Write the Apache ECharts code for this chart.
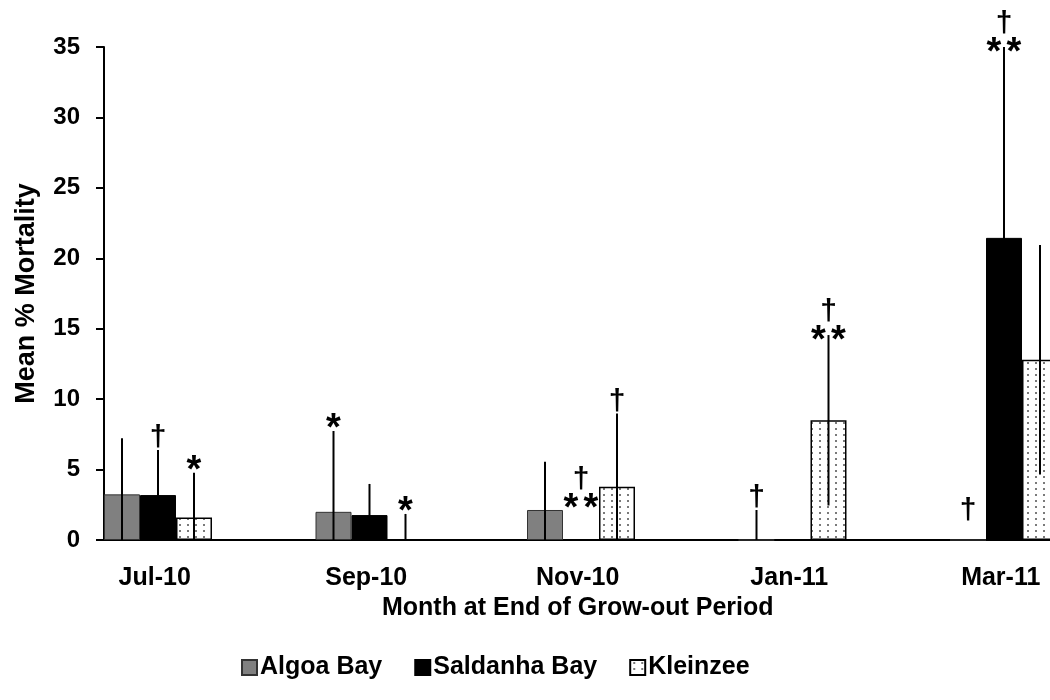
<!DOCTYPE html>
<html><head><meta charset="utf-8">
<script src="https://cdn.jsdelivr.net/npm/echarts@6/dist/echarts.min.js"></script>
<style>html,body{margin:0;padding:0;background:#fff}#c{width:1050px;height:700px}</style>
</head><body><div id="c"></div>
<script>
// ---- data ----
const categories = ['Jul-10', 'Sep-10', 'Nov-10', 'Jan-11', 'Mar-11'];
const seriesNames = ['Algoa Bay', 'Saldanha Bay', 'Kleinzee'];
const yTicks = [0, 5, 10, 15, 20, 25, 30, 35];
const algoa = [3.24, 2.0, 2.13, 0, 0];
const saldanha = [3.19, 1.77, 0, 0, 21.45];
const kleinzee = [1.6, 0, 3.78, 8.5, 12.8];
const algoaErr = [3.98, 5.74, 3.43, 2.13, 0];
const saldanhaErr = [3.2, 2.21, 0, 0, 13.55];
const kleinzeeErr = [3.18, 1.85, 5.2, 6.05, 8.15];
const algoaSig = ['', '*', '', '†', '†'];
const saldanhaSig = ['†', '', '**†', '', '**†'];
const kleinzeeSig = ['*', '*', '†', '**†', ''];
// height (in % units) of markers that have no error line
const algoaSigAt = [null, null, null, null, 1.2];
const saldanhaSigAt = [null, null, 2.6, null, null];
const kleinzeeSigAt = [null, null, null, null, null];

// ---- styling ----
const FONT_FAMILY = '"Liberation Sans", Arial, Helvetica, sans-serif';
const BAR_W = 36;
const GRID_W = 1057.5;

function dotPattern() {
  const c = document.createElement('canvas');
  c.width = 8; c.height = 6;
  const g = c.getContext('2d');
  g.fillStyle = '#ffffff'; g.fillRect(0, 0, 8, 6);
  g.fillStyle = '#7a7a7a'; g.fillRect(3, 2, 2, 2);
  return c;
}
const pattern = { image: dotPattern(), repeat: 'repeat' };

const mctx = document.createElement('canvas').getContext('2d');
function midOffset(ch, font) {
  mctx.font = font; mctx.textBaseline = 'middle';
  const m = mctx.measureText(ch);
  return (m.actualBoundingBoxDescent - m.actualBoundingBoxAscent) / 2;
}
const AST_FONT = 'bold 38px ' + FONT_FAMILY;
const DAG_FONT = 'bold 30px ' + FONT_FAMILY;

const values = [algoa, saldanha, kleinzee];
const errs = [algoaErr, saldanhaErr, kleinzeeErr];
const sigs = [algoaSig, saldanhaSig, kleinzeeSig];
const sigAts = [algoaSigAt, saldanhaSigAt, kleinzeeSigAt];

const errRows = [];
const errMeta = [];
for (let s = 0; s < 3; s++) {
  for (let i = 0; i < categories.length; i++) {
    errRows.push([i, values[s][i], errs[s][i], s]);
    errMeta.push({ sig: sigs[s][i], at: sigAts[s][i] });
  }
}

function glyph(ch, font, x, cy) {
  return {
    type: 'text', x: x, y: cy - midOffset(ch, font),
    style: { text: ch, font: font, fill: '#000', align: 'center', verticalAlign: 'middle' }
  };
}

function renderErr(params, api) {
  const cat = api.value(0), v = api.value(1), e = api.value(2), slot = api.value(3);
  const band = api.size([1, 0])[0];
  const c0 = api.coord([cat, 0]);
  const x = c0[0] - band / 2 + BAR_W * (slot + 0.5);
  const children = [];
  let yTop = null;
  if (e > 0) {
    yTop = api.coord([cat, v + e])[1];
    const yBot = api.coord([cat, Math.max(0, v - e)])[1];
    children.push({ type: 'line', shape: { x1: x, y1: yTop, x2: x, y2: yBot },
      style: { stroke: '#000', lineWidth: 2 } });
  }
  const meta = errMeta[params.dataIndex];
  if (meta.at != null) yTop = api.coord([cat, meta.at])[1];
  if (meta.sig && yTop != null) {
    if (meta.sig === '*') {
      children.push(glyph('*', AST_FONT, x, yTop - 10));
    } else if (meta.sig === '†') {
      children.push(glyph('†', DAG_FONT, x, yTop - 14));
    } else if (meta.sig === '**†') {
      children.push(glyph('*', AST_FONT, x - 10, yTop - 3));
      children.push(glyph('*', AST_FONT, x + 10, yTop - 3));
      children.push(glyph('†', DAG_FONT, x, yTop - 25));
    }
  }
  return { type: 'group', children: children };
}

const chart = echarts.init(document.getElementById('c'), null, { renderer: 'canvas' });
const boldText = { fontFamily: FONT_FAMILY, fontWeight: 'bold', color: '#000' };

chart.setOption({
  animation: false,
  backgroundColor: '#fff',
  grid: { left: 104, top: 47, width: GRID_W, height: 493, containLabel: false, outerBoundsMode: 'none' },
  legend: {
    data: seriesNames, left: 236, top: 650, icon: 'rect',
    itemWidth: 15, itemHeight: 15, itemGap: 32,
    textStyle: Object.assign({ fontSize: 25, padding: [0, 0, 0, -2] }, boldText)
  },
  xAxis: {
    type: 'category', data: categories,
    axisLine: { lineStyle: { color: '#000', width: 2 } },
    axisTick: { show: false },
    axisLabel: Object.assign({ fontSize: 25, margin: 26, interval: 0, padding: [0, 110, 0, 0] }, boldText),
    name: 'Month at End of Grow-out Period', nameLocation: 'middle', nameGap: 56,
    nameTextStyle: Object.assign({ fontSize: 25, padding: [0, 110, 0, 0] }, boldText)
  },
  yAxis: {
    type: 'value', min: yTicks[0], max: yTicks[yTicks.length - 1], interval: yTicks[1] - yTicks[0],
    axisLine: { show: true, lineStyle: { color: '#000', width: 2 } },
    axisTick: { show: true, length: 8, lineStyle: { color: '#000', width: 2 } },
    splitLine: { show: false },
    axisLabel: Object.assign({ fontSize: 24, margin: 24 }, boldText),
    name: 'Mean % Mortality', nameLocation: 'middle', nameGap: 64,
    nameTextStyle: Object.assign({ fontSize: 27 }, boldText)
  },
  series: [
    { name: seriesNames[0], type: 'bar', data: algoa, barWidth: BAR_W, barGap: 0,
      itemStyle: { color: '#808080', borderColor: '#333', borderWidth: 1 } },
    { name: seriesNames[1], type: 'bar', data: saldanha, barWidth: BAR_W, barGap: 0,
      itemStyle: { color: '#000', borderColor: '#000', borderWidth: 1 } },
    { name: seriesNames[2], type: 'bar', data: kleinzee, barWidth: BAR_W, barGap: 0,
      itemStyle: { color: pattern, borderColor: '#000', borderWidth: 1.5 } },
    { name: '_pad', type: 'bar', data: categories.map(() => '-'), barWidth: GRID_W / 5 - 3 * BAR_W, barGap: 0,
      silent: true, itemStyle: { color: 'transparent' } },
    { name: '_err', type: 'custom', data: errRows, renderItem: renderErr, clip: false, z: 5,
      encode: { x: 0, y: 1 }, silent: true }
  ]
});
</script>
</body></html>
